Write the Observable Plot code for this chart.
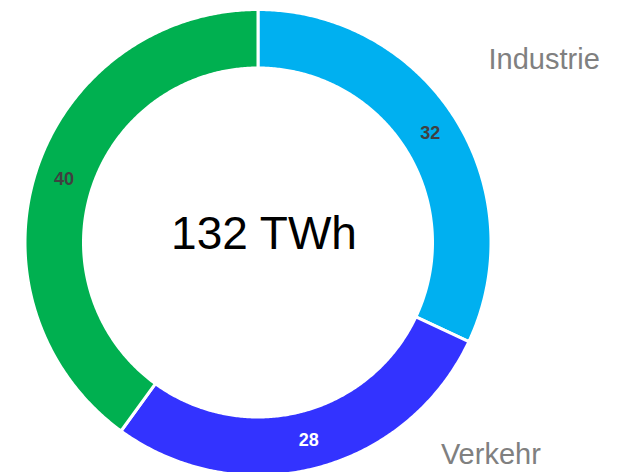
<!DOCTYPE html>
<html>
<head>
<meta charset="utf-8">
<script src="https://cdn.jsdelivr.net/npm/d3@7"></script>
<script src="https://cdn.jsdelivr.net/npm/@observablehq/plot@0.6"></script>
<style>
  html, body { margin: 0; padding: 0; background: #fff; }
  #chart svg { display: block; }
</style>
</head>
<body>
<div id="chart"></div>
<script>
// ---- data ----
const categories = ["Industrie", "Verkehr", "Haushalte"];
const shares = [32, 28, 40];
const centerLabel = "132 TWh";
const palette = ["#00B0F0", "#3333FF", "#00B050"];

// ---- layout (code, not data) ----
const W = 627, H = 472;
const cxPx = 257.5, cyPx = 242, unit = 233;   // donut centre and outer radius in px
const rOuter = 1, rInner = 174.5 / 233, rMid = 204 / 233;
const xDomain = [-cxPx / unit, (W - cxPx) / unit];
const yDomain = [-(H - cyPx) / unit, cyPx / unit];
const font = "Liberation Sans, Arial, Helvetica, sans-serif";

const rows = categories.map((c, i) => ({category: c, value: shares[i], color: palette[i]}));
const arcs = d3.pie().sort(null).value(d => d.value).startAngle(0).endAngle(2 * Math.PI)(rows);

// ring polygons
const pts = [];
for (const a of arcs) {
  const n = Math.max(2, Math.ceil((a.endAngle - a.startAngle) * 180 / Math.PI * 2));
  const ring = [];
  for (let k = 0; k <= n; k++) {
    const t = a.startAngle + (a.endAngle - a.startAngle) * k / n;
    ring.push([Math.sin(t) * rOuter, Math.cos(t) * rOuter]);
  }
  for (let k = n; k >= 0; k--) {
    const t = a.startAngle + (a.endAngle - a.startAngle) * k / n;
    ring.push([Math.sin(t) * rInner, Math.cos(t) * rInner]);
  }
  ring.push(ring[0]);
  for (const [x, y] of ring) pts.push({category: a.data.category, x, y});
}

// value labels at the middle of the ring
const valueLabels = arcs.map(a => {
  const m = (a.startAngle + a.endAngle) / 2;
  const dark = d3.lab(a.data.color).l < 50;
  return {x: Math.sin(m) * rMid, y: Math.cos(m) * rMid, text: String(a.data.value), dark};
});

// outer category labels: on a label circle at the mid angle, clamped into the frame,
// then placed beside the ring at that height
const rLabel = 1.465, gap = 0.37, yPad = 18 / unit;
const outerLabels = arcs.map(a => {
  const m = (a.startAngle + a.endAngle) / 2;
  let y = Math.cos(m) * rLabel;
  y = Math.max(yDomain[0] + yPad, Math.min(yDomain[1] - yPad, y));
  const side = Math.sin(m) >= 0 ? 1 : -1;
  const half = Math.sqrt(Math.max(0, rOuter * rOuter - y * y));
  const x = side * (half + gap);
  return {x, y, text: a.data.category, anchor: side > 0 ? "start" : "end"};
}).filter(d => d.anchor === "start" ? d.x < xDomain[1] - 0.3 : d.x > xDomain[0] + 0.3);

const chart = Plot.plot({
  width: W,
  height: H,
  margin: 0,
  style: {fontFamily: font, background: "#fff"},
  x: {domain: xDomain, axis: null},
  y: {domain: yDomain, axis: null},
  color: {domain: categories, range: palette},
  marks: [
    Plot.line(pts, {x: "x", y: "y", z: "category", fill: "category", stroke: "white", strokeWidth: 3, curve: "linear"}),
    Plot.text(valueLabels.filter(d => !d.dark), {x: "x", y: "y", text: "text", fill: "#404040", fontWeight: "bold", fontSize: 18, fontFamily: font}),
    Plot.text(valueLabels.filter(d => d.dark), {x: "x", y: "y", text: "text", fill: "#ffffff", fontWeight: "bold", fontSize: 18, fontFamily: font}),
    Plot.text(outerLabels.filter(d => d.anchor === "start"), {x: "x", y: "y", text: "text", textAnchor: "start", fill: "#808080", fontSize: 29, fontFamily: font}),
    Plot.text(outerLabels.filter(d => d.anchor === "end"), {x: "x", y: "y", text: "text", textAnchor: "end", fill: "#808080", fontSize: 29, fontFamily: font}),
    Plot.text([{x: 0, y: 0, text: centerLabel}], {x: "x", y: "y", text: "text", fill: "#000", fontSize: 46, fontFamily: font, dx: 6, dy: -8})
  ]
});
document.getElementById("chart").appendChild(chart);
</script>
</body>
</html>
